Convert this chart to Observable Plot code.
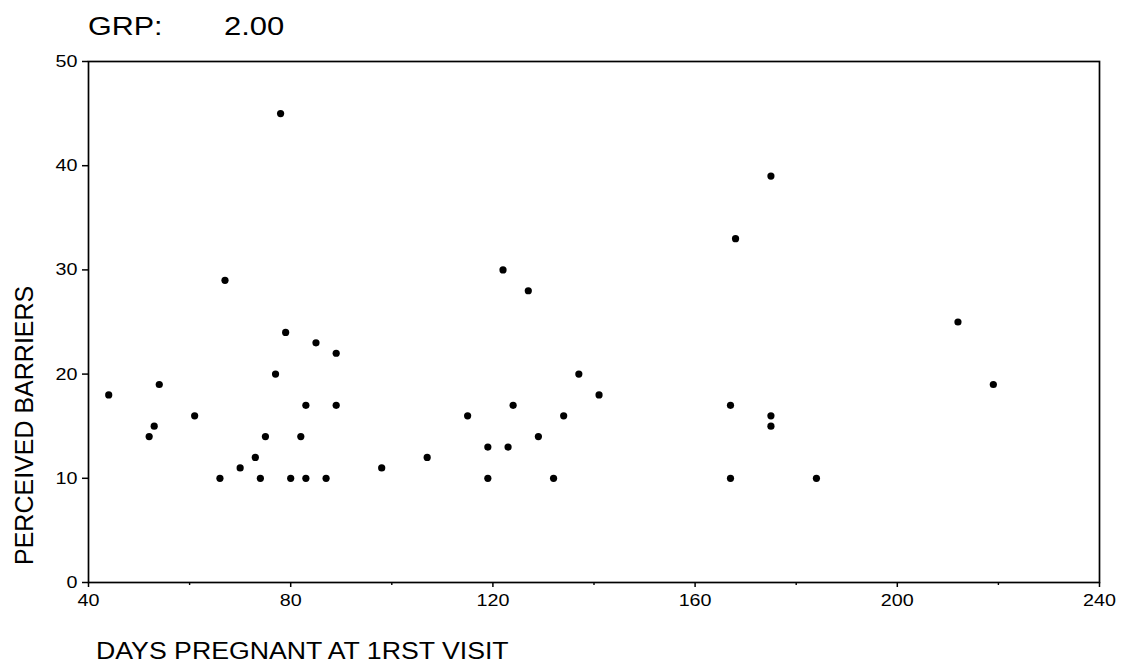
<!DOCTYPE html>
<html><head><meta charset="utf-8">
<script src="https://cdn.jsdelivr.net/npm/d3@7"></script>
<script src="https://cdn.jsdelivr.net/npm/@observablehq/plot@0.6"></script>
<style>
body{margin:0;background:#fff;}
#wrap{position:relative;width:1121px;height:670px;font-family:"Liberation Sans",Arial,sans-serif;color:#000;overflow:hidden;}
#chart{position:absolute;left:0;top:0;}
.lbl{position:absolute;white-space:nowrap;line-height:1;transform-origin:0 0;}
</style></head><body>
<div id="wrap">
  <div id="chart"></div>
  <div class="lbl" id="tKey" style="left:88px;top:14px;font-size:25px;transform:scaleX(1.22);"></div>
  <div class="lbl" id="tVal" style="left:224px;top:14px;font-size:25px;transform:scaleX(1.24);"></div>
  <div class="lbl" id="xLab" style="left:96px;top:640px;font-size:23px;transform:scaleX(1.16);"></div>
  <div class="lbl" id="yLab" style="left:12px;top:565px;font-size:25px;transform:rotate(-90deg);"></div>
</div>
<script>
const days = [44,54,53,52,61,67,66,70,73,74,75,77,78,79,80,82,83,83,85,87,89,89,98,107,115,119,119,122,123,124,127,129,132,134,137,141,175,168,167,175,175,167,184,212,219];
const barriers = [18,19,15,14,16,29,10,11,12,10,14,20,45,24,10,14,17,10,23,10,22,17,11,12,16,13,10,30,13,17,28,14,10,16,20,18,39,33,17,16,15,10,10,25,19];
const xTicksMajor = [40,80,120,160,200,240];
const xTicksMinor = [60,100,140,180,220];
const yTicks = [0,10,20,30,40,50];
const titleKey = "GRP:";
const titleValue = "2.00";
const xLabel = "DAYS PREGNANT AT 1RST VISIT";
const yLabel = "PERCEIVED BARRIERS";

document.getElementById("tKey").textContent = titleKey;
document.getElementById("tVal").textContent = titleValue;
document.getElementById("xLab").textContent = xLabel;
document.getElementById("yLab").textContent = yLabel;

const data = days.map((d, i) => ({days: d, barriers: barriers[i]}));

const plot = Plot.plot({
  width: 1121,
  height: 670,
  marginTop: 61,
  marginLeft: 88,
  marginRight: 22,
  marginBottom: 88,
  style: {fontFamily: "Liberation Sans, Arial, sans-serif", fontSize: "17px", color: "#000", background: "#fff", overflow: "visible"},
  x: {domain: [40, 240], label: null},
  y: {domain: [0, 50], label: null},
  marks: [
    Plot.axisX({ticks: xTicksMinor, tickSize: 3, tickFormat: () => "", label: null, strokeWidth: 1.4}),
    Plot.axisX({ticks: xTicksMajor, tickSize: 5, tickPadding: 6, label: null, strokeWidth: 1.5, fontSize: 17}),
    Plot.axisY({ticks: yTicks, tickSize: 6, tickPadding: 5, label: null, strokeWidth: 1.5, fontSize: 17}),
    Plot.frame({stroke: "#000", strokeWidth: 1.7}),
    Plot.dot(data, {x: "days", y: "barriers", r: 3.6, fill: "#000", stroke: null})
  ]
});
document.getElementById("chart").appendChild(plot);

// widen tick labels to match the reference's wide glyphs
plot.querySelectorAll('g[aria-label="x-axis tick label"] text, g[aria-label="y-axis tick label"] text').forEach(t => {
  const len = t.getComputedTextLength();
  if (len > 0) {
    t.setAttribute("textLength", (len * 1.16).toFixed(2));
    t.setAttribute("lengthAdjust", "spacingAndGlyphs");
  }
});
</script>
</body></html>
